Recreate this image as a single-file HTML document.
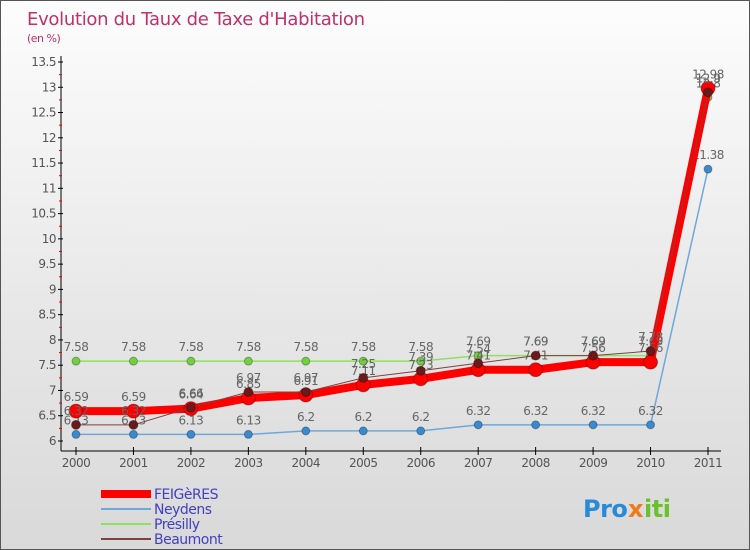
<!DOCTYPE html>
<html><head><meta charset="utf-8"><style>
body{margin:0}
#c{width:750px;height:550px;position:relative;background:linear-gradient(to bottom,#fdfdfd 0%,#e6e6e6 60%,#d9d9d9 100%);font-family:"DejaVu Sans","Liberation Sans",sans-serif;overflow:hidden;box-sizing:border-box;border:1px solid #555}
</style></head><body>
<div id="c">
<svg id="s" width="750" height="550"></svg>
</div>
<script>
const years=["2000","2001","2002","2003","2004","2005","2006","2007","2008","2009","2010","2011"];
const feigeres=[6.59,6.59,6.64,6.85,6.91,7.11,7.23,7.41,7.41,7.56,7.56,12.98];
const neydens=[6.13,6.13,6.13,6.13,6.2,6.2,6.2,6.32,6.32,6.32,6.32,11.38];
const presilly=[7.58,7.58,7.58,7.58,7.58,7.58,7.58,7.69,7.69,7.69,7.69,12.8];
const beaumont=[6.32,6.32,6.66,6.97,6.97,7.25,7.39,7.54,7.69,7.69,7.78,12.9];
const yTicks=["6","6.5","7","7.5","8","8.5","9","9.5","10","10.5","11","11.5","12","12.5","13","13.5"];
const NS="http://www.w3.org/2000/svg",s=document.getElementById('s');
function X(i){return 75+i*(707-75)/11}
function Y(v){return 440-(v-6)*(440-61)/7.5}
function el(t,a,p){const e=document.createElementNS(NS,t);for(const k in a)e.setAttribute(k,a[k]);(p||s).appendChild(e);return e}
function tx(x,y,str,a){const e=el('text',Object.assign({x:x,y:y,'font-size':12,fill:'#555','letter-spacing':'-0.5'},a||{}));e.textContent=str;return e}
let t=tx(26,24,"Evolution du Taux de Taxe d'Habitation",{'font-size':18,fill:'#c0306a','letter-spacing':'-0.3'});

t=tx(26,41,"(en %)",{'font-size':11,fill:'#c0306a'});

let ax=el('line',{x1:60,y1:55,x2:60,y2:450,stroke:'#000','stroke-width':1});

ax=el('line',{x1:60,y1:450,x2:720,y2:450,stroke:'#000','stroke-width':1});

yTicks.forEach(v=>{const y=Y(+v);el('line',{x1:57,y1:y,x2:62,y2:y,stroke:'#000'});
 if(+v<13.5)el('line',{x1:58,y1:Y(+v+0.25),x2:61,y2:Y(+v+0.25),stroke:'#e00'});
 t=tx(55,y+4,v,{'text-anchor':'end'});});
years.forEach((yv,i)=>{el('line',{x1:X(i),y1:446,x2:X(i),y2:454,stroke:'#000'});
 t=tx(X(i),466,yv,{'text-anchor':'middle'});});
function series(d,col,w,r,name,dot){
 const g=el('g',{});
 el('polyline',{points:d.map((v,i)=>X(i)+','+Y(v)).join(' '),fill:'none',stroke:col,'stroke-width':w,'stroke-linejoin':'round'},g);
 d.forEach((v,i)=>{const c=el('circle',{cx:X(i),cy:Y(v),r:r,fill:dot,stroke:'rgba(0,0,0,0.3)'},g);
  
  const l=tx(X(i),Y(v)-10,String(v),{'text-anchor':'middle',fill:'#666'},g);});
}
series(neydens,'#6fa8d8',1.5,4,'neydens','#3a8ad0');
series(presilly,'#90e060',1.5,4,'presilly','#70d040');
series(feigeres,'#ff0000',8,7,'feigeres','#ff0000');
series(beaumont,'#804040',1,4.5,'beaumont','#6a1a1a');
const leg=[["FEIGèRES","#ff0000",8],["Neydens","#6fa8d8",2],["Présilly","#90e060",2],["Beaumont","#804040",2]];
leg.forEach((l,i)=>{const y=493+i*15;const g=el('g',{});
 el('line',{x1:100,y1:y,x2:150,y2:y,stroke:l[1],'stroke-width':l[2]},g);
 tx(153,y+5,l[0],{'font-size':14,fill:'#4040c0'},g);});
t=tx(582,516,"Pro",{'font-size':24,'font-weight':'bold',fill:'#2a8ad8'});

tx(627,516,"x",{'font-size':24,'font-weight':'bold',fill:'#f07a1a'});
tx(643,516,"iti",{'font-size':24,'font-weight':'bold',fill:'#6cc030'});
</script>
</body></html>
